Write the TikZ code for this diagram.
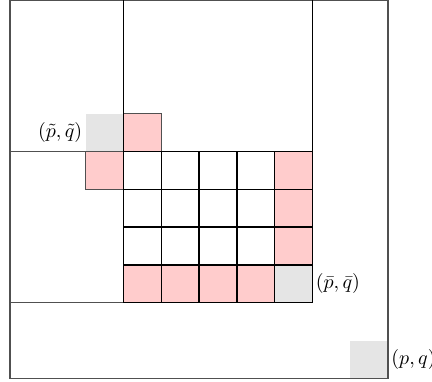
\documentclass[tikz,border=0pt]{standalone}
\definecolor{cellpink}{RGB}{255,204,204}
\definecolor{cellgray}{RGB}{229,229,229}
\definecolor{framegray}{RGB}{80,80,80}
\tikzset{
  frameline/.style={draw=framegray, line width=0.55pt},
  gridline/.style={draw=black, line width=0.7pt},
  pinkcell/.style={fill=cellpink, draw=framegray, line width=0.55pt},
  graycell/.style={fill=cellgray},
  lbl/.style={inner sep=1.5pt, font=\normalsize}
}
\begin{document}
\begin{tikzpicture}[x=18.9pt, y=-18.9pt]
\useasboundingbox (-0.2646,-0.01) rectangle (11.164,10.07);
% gray filled cells
\fill[graycell] (2,3) rectangle (3,4);
\fill[graycell] (7,7) rectangle (8,8);
\fill[graycell] (9,9) rectangle (10,10);
% pink cells
\filldraw[pinkcell] (3,3) rectangle (4,4);
\filldraw[pinkcell] (2,4) rectangle (3,5);
\filldraw[pinkcell] (7,4) rectangle (8,7);
\filldraw[pinkcell] (3,7) rectangle (7,8);
% outer frame and left part lines
\draw[frameline] (0,0) rectangle (10,10);
\draw[frameline] (0,4) -- (3,4);
\draw[frameline] (0,8) -- (3,8);
% black block lines
\draw[gridline] (3,0) -- (3,8);
\draw[gridline] (8,0) -- (8,8);
\draw[gridline] (3,4) -- (8,4);
\draw[gridline] (3,8) -- (8,8);
% inner grid
\foreach \i in {4,5,6,7} \draw[gridline] (\i,4) -- (\i,8);
\foreach \j in {5,6,7} \draw[gridline] (3,\j) -- (8,\j);
% labels
\node[lbl, anchor=east] (ptilde) at (2,3.5) {$(\tilde p,\tilde q)$};
\node[lbl, anchor=west] (pbar) at (8,7.5) {$(\bar p,\bar q)$};
\node[lbl, anchor=west] (pq) at (10,9.5) {$(p,q)$};
\end{tikzpicture}
\end{document}
